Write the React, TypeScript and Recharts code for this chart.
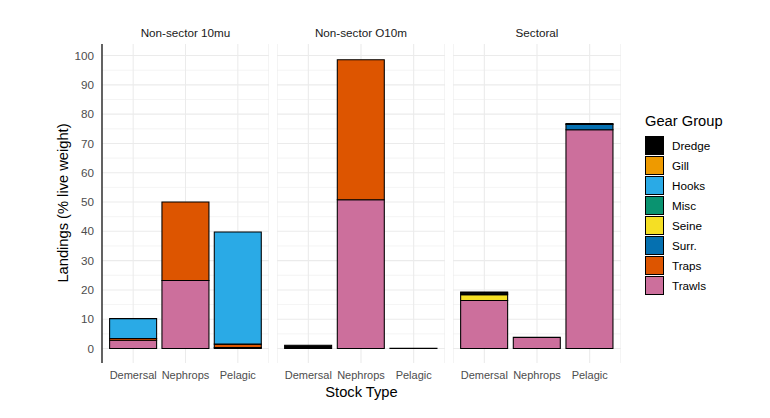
import React from 'react';
import { BarChart, Bar, XAxis, YAxis, CartesianGrid } from 'recharts';

const chartFont = '"Liberation Sans", Arial, sans-serif';

const facets = ['Non-sector 10mu', 'Non-sector O10m', 'Sectoral'];
const stockTypes = ['Demersal', 'Nephrops', 'Pelagic'];
const gears = ['Dredge', 'Gill', 'Hooks', 'Misc', 'Seine', 'Surr.', 'Traps', 'Trawls'];
const gearColors = ['#000000', '#EE9A00', '#2AAAE6', '#0A9370', '#F5DF24', '#0570B0', '#DD5500', '#CC6F9C'];

// rows follow `gears`, columns follow `stockTypes`
const nonSector10mu = [
  [0, 0, 0],
  [0, 0, 0],
  [6.8, 0, 38.3],
  [0, 0, 0],
  [0, 0, 0],
  [0, 0, 0],
  [0.6, 26.8, 1.2],
  [2.8, 23.2, 0.3],
];
const nonSectorO10m = [
  [1.1, 0, 0],
  [0, 0, 0],
  [0, 0, 0],
  [0, 0, 0],
  [0, 0, 0],
  [0, 0, 0],
  [0, 47.8, 0],
  [0, 50.8, 0.1],
];
const sectoral = [
  [0.4, 0, 0.3],
  [0, 0, 0],
  [0.5, 0, 0],
  [0, 0, 0],
  [2.0, 0, 0],
  [0, 0, 1.8],
  [0, 0, 0],
  [16.4, 3.8, 74.7],
];
const facetValues = [nonSector10mu, nonSectorO10m, sectoral];

const majorTicks = [0, 10, 20, 30, 40, 50, 60, 70, 80, 90, 100];
const minorTicks = [5, 15, 25, 35, 45, 55, 65, 75, 85, 95];
const yDomain = [-4.95, 103.95];

const panelLayout = [
  { left: 0, width: 269, showY: true },
  { left: 277, width: 168, showY: false },
  { left: 453, width: 168, showY: false },
];

function Panel({ idx }: { idx: number }) {
  const values = facetValues[idx];
  const layout = panelLayout[idx];
  const data = stockTypes.map((s, i) => {
    const row: Record<string, any> = { stock: s };
    gears.forEach((g, j) => {
      row[g] = values[j][i];
    });
    return row;
  });
  const stackOrder = [...gears].reverse();
  return (
    <div style={{ position: 'absolute', left: layout.left, top: 0 }}>
      <BarChart
        width={layout.width}
        height={418}
        data={data}
        margin={{ top: 44, right: 0, bottom: 25, left: 0 }}
        barCategoryGap="5%"
      >
        <CartesianGrid stroke="#EBEBEB" strokeWidth={0.53} horizontalValues={minorTicks} vertical={false} />
        <CartesianGrid stroke="#EBEBEB" strokeWidth={1.07} horizontalValues={majorTicks} />
        <XAxis
          dataKey="stock"
          height={30}
          padding={{ left: 5, right: 5 }}
          axisLine={false}
          tickLine={false}
          tickSize={0}
          tickMargin={8}
          interval={0}
          tick={{ fill: '#4D4D4D', fontSize: 11, fontFamily: chartFont }}
        />
        <YAxis
          hide={!layout.showY}
          width={102}
          type="number"
          domain={yDomain}
          allowDataOverflow
          ticks={majorTicks}
          tickLine={false}
          tickSize={0}
          tickMargin={8}
          axisLine={{ stroke: '#000000', strokeWidth: 1.2 }}
          tick={{ fill: '#4D4D4D', fontSize: 11.7, fontFamily: chartFont }}
        />
        {stackOrder.map((g) => (
          <Bar
            key={g}
            dataKey={g}
            stackId="a"
            fill={gearColors[gears.indexOf(g)]}
            stroke="#000000"
            strokeWidth={1.07}
            isAnimationActive={false}
          />
        ))}
      </BarChart>
    </div>
  );
}

export default function App() {
  return (
    <div
      style={{
        position: 'absolute',
        left: 0,
        top: 0,
        width: 770,
        height: 418,
        background: '#FFFFFF',
        fontFamily: chartFont,
        overflow: 'hidden',
      }}
    >
      {panelLayout.map((p, i) => (
        <React.Fragment key={i}>
          <Panel idx={i} />
          <div
            style={{
              position: 'absolute',
              left: p.left + (i === 0 ? 102 : 0),
              width: p.width - (i === 0 ? 102 : 0),
              top: 25,
              textAlign: 'center',
              fontSize: 11.7,
              color: '#1A1A1A',
              lineHeight: '16px',
            }}
          >
            {facets[i]}
          </div>
        </React.Fragment>
      ))}
      <div
        style={{
          position: 'absolute',
          left: 63 - 120,
          top: 203 - 10,
          width: 240,
          height: 20,
          lineHeight: '20px',
          textAlign: 'center',
          fontSize: 14.7,
          color: '#000000',
          transform: 'rotate(-90deg)',
        }}
      >
        Landings (% live weight)
      </div>
      <div
        style={{
          position: 'absolute',
          left: 102,
          width: 519,
          top: 382,
          lineHeight: '20px',
          textAlign: 'center',
          fontSize: 14.7,
          color: '#000000',
        }}
      >
        Stock Type
      </div>
      <div style={{ position: 'absolute', left: 645, top: 111, fontSize: 14.7, lineHeight: '20px', color: '#000' }}>
        Gear Group
      </div>
      {gears.map((g, i) => (
        <div key={g} style={{ position: 'absolute', left: 645, top: 135 + i * 20.1, height: 20, display: 'flex', alignItems: 'center' }}>
          <div
            style={{
              width: 17,
              height: 17,
              background: gearColors[i],
              border: '1px solid #000',
            }}
          />
          <span style={{ marginLeft: 8, fontSize: 11.7, color: '#000' }}>{g}</span>
        </div>
      ))}
    </div>
  );
}
